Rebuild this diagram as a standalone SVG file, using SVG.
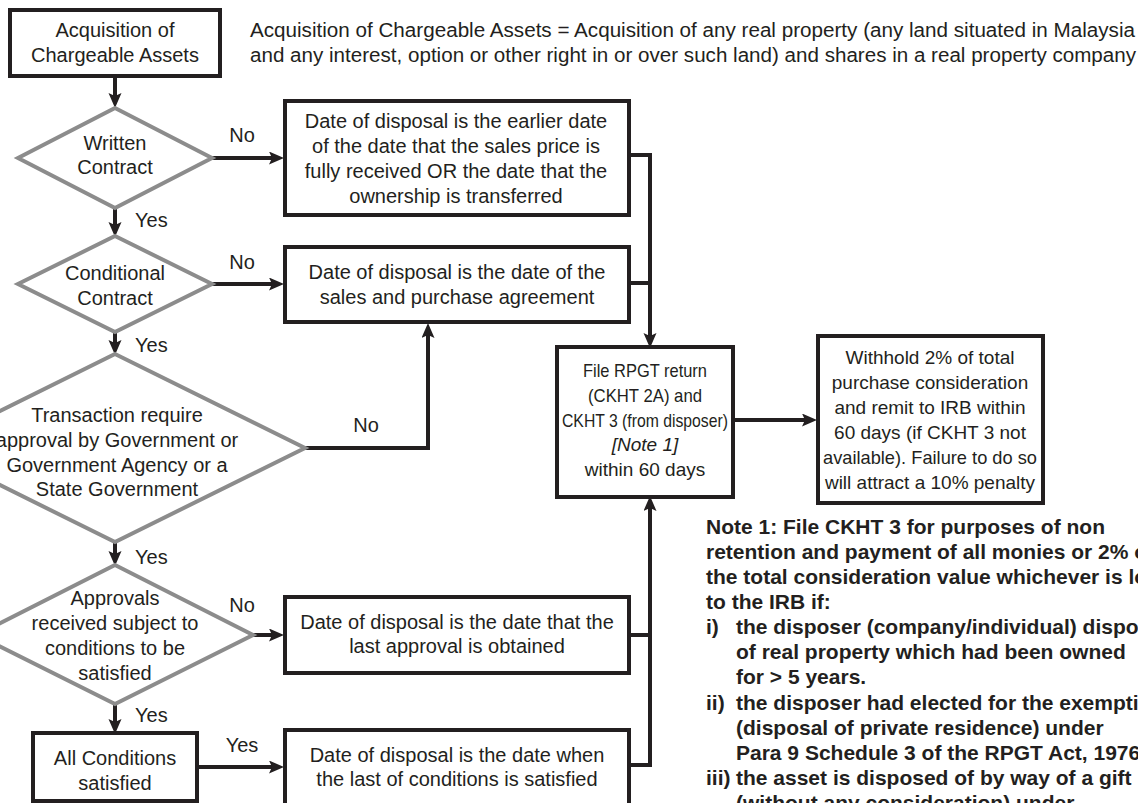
<svg xmlns="http://www.w3.org/2000/svg" width="1138" height="803" viewBox="0 0 1138 803">
<style>
  .bg{fill:#ffffff}
  .box{fill:#ffffff;stroke:#231f20;stroke-width:4}
  .dia{fill:#ffffff;stroke:#8c8c8c;stroke-width:4;stroke-linejoin:miter}
  .t{font-family:"Liberation Sans",Arial,sans-serif;font-size:20px;fill:#231f20;text-anchor:middle}
  .s{font-size:19px}
  .tl{font-family:"Liberation Sans",Arial,sans-serif;font-size:20px;fill:#231f20}
  .it{font-style:italic}
  .nb{font-family:"Liberation Sans",Arial,sans-serif;font-size:21px;font-weight:bold;fill:#231f20}
  .c{fill:none;stroke:#231f20;stroke-width:4;stroke-linejoin:miter}
  .a{marker-end:url(#ah)}
</style>
<defs>
  <marker id="ah" markerUnits="userSpaceOnUse" markerWidth="16" markerHeight="14" refX="3" refY="6.5" orient="auto">
    <path d="M0,0 L15,6.5 L0,13 L3,6.5 z" fill="#231f20"/>
  </marker>
</defs>
<rect class="bg" x="0" y="0" width="1138" height="803"/>

<g id="header">
  <text class="tl" x="250" y="37" textLength="885" lengthAdjust="spacingAndGlyphs">Acquisition of Chargeable Assets = Acquisition of any real property (any land situated in Malaysia</text>
  <text class="tl" x="250" y="62" textLength="886" lengthAdjust="spacingAndGlyphs">and any interest, option or other right in or over such land) and shares in a real property company</text>
</g>

<g id="connectors">
  <path class="c a" d="M115,76 V96"/>
  <path class="c a" d="M212,158 H272"/>
  <path class="c a" d="M115,208 V225"/>
  <path class="c a" d="M212,284 H272"/>
  <path class="c a" d="M115,332 V343"/>
  <path class="c a" d="M305,448 H428 V335"/>
  <path class="c a" d="M115,542 V554"/>
  <path class="c a" d="M253,635 H272"/>
  <path class="c a" d="M115,704 V722"/>
  <path class="c a" d="M197,767 H272"/>
  <path class="c a" d="M629,155 H650 V336"/>
  <path class="c" d="M629,283 H650"/>
  <path class="c a" d="M629,765 H650 V508"/>
  <path class="c" d="M629,635 H650"/>
  <path class="c a" d="M733,420 H805"/>
</g>

<g id="n-start">
  <rect class="box" x="10" y="10" width="210" height="66"/>
  <text class="t" x="115" y="37">Acquisition of</text>
  <text class="t" x="115" y="62">Chargeable Assets</text>
</g>

<g id="d-written">
  <polygon class="dia" points="115,108 212,158 115,208 18,158"/>
  <text class="t" x="115" y="150">Written</text>
  <text class="t" x="115" y="174">Contract</text>
</g>

<g id="d-conditional">
  <polygon class="dia" points="115,236 212,284 115,332 18,284"/>
  <text class="t" x="115" y="280">Conditional</text>
  <text class="t" x="115" y="305">Contract</text>
</g>

<g id="d-transaction">
  <polygon class="dia" points="115,354 305,448 115,542 -75,448"/>
  <text class="t" x="117" y="422">Transaction require</text>
  <text class="t" x="117" y="447">approval by Government or</text>
  <text class="t" x="117" y="472">Government Agency or a</text>
  <text class="t" x="117" y="496">State Government</text>
</g>

<g id="d-approvals">
  <polygon class="dia" points="115,565 253,635 115,704 -23,635"/>
  <text class="t" x="115" y="605">Approvals</text>
  <text class="t" x="115" y="630">received subject to</text>
  <text class="t" x="115" y="655">conditions to be</text>
  <text class="t" x="115" y="680">satisfied</text>
</g>

<g id="n-allcond">
  <rect class="box" x="33" y="733" width="164" height="68"/>
  <text class="t" x="115" y="765">All Conditions</text>
  <text class="t" x="115" y="790">satisfied</text>
</g>

<g id="n-box1">
  <rect class="box" x="285" y="101" width="344" height="114"/>
  <text class="t" x="456" y="128">Date of disposal is the earlier date</text>
  <text class="t" x="456" y="153">of the date that the sales price is</text>
  <text class="t" x="456" y="178">fully received OR the date that the</text>
  <text class="t" x="456" y="203">ownership is transferred</text>
</g>

<g id="n-box2">
  <rect class="box" x="285" y="247" width="344" height="75"/>
  <text class="t" x="457" y="279">Date of disposal is the date of the</text>
  <text class="t" x="457" y="304">sales and purchase agreement</text>
</g>

<g id="n-box4">
  <rect class="box" x="285" y="597" width="344" height="76"/>
  <text class="t" x="457" y="629">Date of disposal is the date that the</text>
  <text class="t" x="457" y="653">last approval is obtained</text>
</g>

<g id="n-box6">
  <rect class="box" x="285" y="730" width="344" height="90"/>
  <text class="t" x="457" y="762">Date of disposal is the date when</text>
  <text class="t" x="457" y="786">the last of conditions is satisfied</text>
</g>

<g id="n-file">
  <rect class="box" x="557" y="347" width="176" height="150"/>
  <text class="t s" x="645" y="377" textLength="124" lengthAdjust="spacingAndGlyphs">File RPGT return</text>
  <text class="t s" x="645" y="402" textLength="114" lengthAdjust="spacingAndGlyphs">(CKHT 2A) and</text>
  <text class="t s" x="645" y="427" textLength="166" lengthAdjust="spacingAndGlyphs">CKHT 3 (from disposer)</text>
  <text class="t s it" x="645" y="451">[Note 1]</text>
  <text class="t s" x="645" y="476">within 60 days</text>
</g>

<g id="n-withhold">
  <rect class="box" x="818" y="336" width="225" height="167"/>
  <text class="t s" x="930" y="364">Withhold 2% of total</text>
  <text class="t s" x="930" y="389">purchase consideration</text>
  <text class="t s" x="930" y="414">and remit to IRB within</text>
  <text class="t s" x="930" y="439">60 days (if CKHT 3 not</text>
  <text class="t s" x="930" y="464" textLength="214" lengthAdjust="spacingAndGlyphs">available). Failure to do so</text>
  <text class="t s" x="930" y="489">will attract a 10% penalty</text>
</g>

<g id="labels">
  <text class="t" x="242" y="142">No</text>
  <text class="tl" x="135" y="227">Yes</text>
  <text class="t" x="242" y="269">No</text>
  <text class="tl" x="135" y="352">Yes</text>
  <text class="t" x="366" y="432">No</text>
  <text class="tl" x="135" y="564">Yes</text>
  <text class="t" x="242" y="612">No</text>
  <text class="tl" x="135" y="722">Yes</text>
  <text class="t" x="242" y="752">Yes</text>
</g>

<g id="note1">
  <text class="nb" x="706" y="534">Note 1: File CKHT 3 for purposes of non</text>
  <text class="nb" x="706" y="559">retention and payment of all monies or 2% of</text>
  <text class="nb" x="706" y="584">the total consideration value whichever is lower</text>
  <text class="nb" x="706" y="609">to the IRB if:</text>
  <text class="nb" x="706" y="634">i)</text>
  <text class="nb" x="736" y="634">the disposer (company/individual) disposes</text>
  <text class="nb" x="736" y="659">of real property which had been owned</text>
  <text class="nb" x="736" y="684">for &gt; 5 years.</text>
  <text class="nb" x="706" y="710">ii)</text>
  <text class="nb" x="736" y="710">the disposer had elected for the exemption</text>
  <text class="nb" x="736" y="735">(disposal of private residence) under</text>
  <text class="nb" x="736" y="760">Para 9 Schedule 3 of the RPGT Act, 1976</text>
  <text class="nb" x="706" y="785">iii)</text>
  <text class="nb" x="736" y="785">the asset is disposed of by way of a gift</text>
  <text class="nb" x="736" y="810">(without any consideration) under</text>
</g>
</svg>
